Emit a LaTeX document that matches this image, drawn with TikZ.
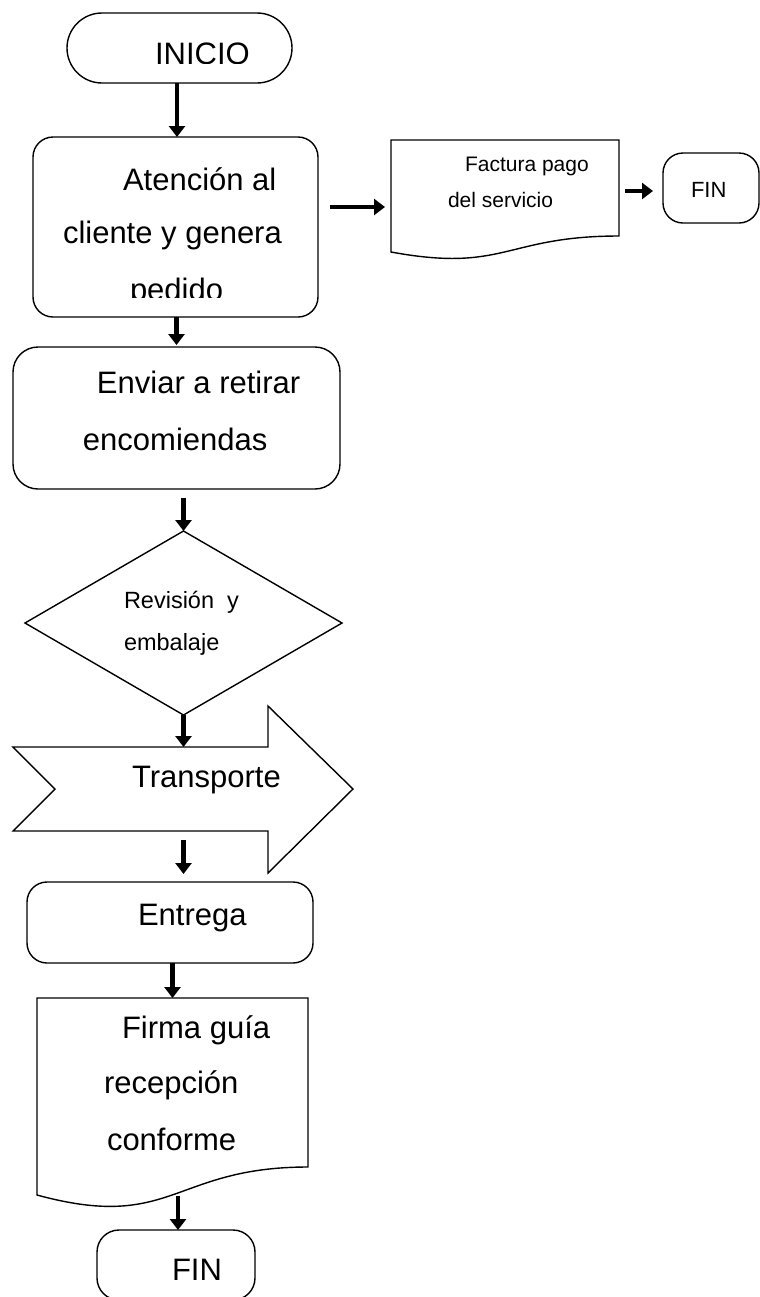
\documentclass[tikz,border=0pt]{standalone}
\usepackage{fontspec}
\setmainfont{Liberation Sans}
\usetikzlibrary{arrows.meta,calc,shapes.geometric}
\newcommand\fbig{\fontsize{15.5pt}{19pt}\selectfont}
\newcommand\fmid{\fontsize{11.75pt}{14pt}\selectfont}
\newcommand\fsml{\fontsize{10.5pt}{13pt}\selectfont}
\newcommand\ffin{\fontsize{11pt}{13pt}\selectfont}
\begin{document}
\begin{tikzpicture}[x=0.5pt,y=-0.5pt,
  shp/.style={draw, line width=0.7pt, inner sep=0pt, outer sep=0pt},
  ghost/.style={inner sep=0pt, outer sep=0pt},
  outline/.style={draw, line width=0.7pt, line join=miter},
  arr/.style={line width=2.4pt, -{Triangle[length=5.5pt,width=8pt]}},
  txt/.style={anchor=base west, inner sep=0pt, outer sep=0pt}]
\useasboundingbox (0,0) rectangle (760,1297);
\clip (0,0) rectangle (760,1297);
\fill[white] (0,0) rectangle (760,1297);

% shapes
\node[shp, rounded corners=17.5pt, minimum width=112.5pt, minimum height=35pt] (ini) at (179.5,48) {};
\node[shp, rounded corners=10pt, minimum width=142.5pt, minimum height=90pt] (aten) at (175.5,227) {};
\node[ghost, minimum width=114pt, minimum height=56pt] (fact) at (505,196) {};
\draw[outline] (391,140) -- (619,140) -- (619,236) .. controls (505,236) and (505,273) .. (391,252) -- cycle;
\node[shp, rounded corners=10pt, minimum width=48pt, minimum height=35pt] (fin1) at (711,188) {};
\node[shp, rounded corners=12.5pt, minimum width=163.5pt, minimum height=71pt] (env) at (176.5,418) {};
\node[shp, diamond, minimum width=158.5pt, minimum height=92pt] (dia) at (183.5,623) {};
\node[ghost, minimum width=127.5pt, minimum height=42pt] (trans) at (140.5,789) {};
\draw[outline] (13,747) -- (268,747) -- (268,706) -- (353,789) -- (268,873) -- (268,831) -- (13,831) -- (55,789) -- cycle;
\node[shp, rounded corners=10pt, minimum width=143pt, minimum height=40.5pt] (ent) at (170,922.5) {};
\node[ghost, minimum width=135.5pt, minimum height=99pt] (firma) at (172.5,1097) {};
\draw[outline] (37,998) -- (308,998) -- (308,1167) .. controls (172.5,1167) and (172.5,1232) .. (37,1195) -- cycle;
\node[shp, rounded corners=11pt, minimum width=79pt, minimum height=35pt] (fin2) at (176,1265) {};

% texts
\begin{scope}
\clip (0,0) rectangle (760,63.5);
\node[txt, font=\fbig] (tini) at (155,64.5) {INICIO};
\end{scope}
\node[txt, font=\fbig] (t1a) at (123,190) {Atención al};
\node[txt, font=\fbig] (t1b) at (63,243) {cliente y genera};
\begin{scope}
\clip (0,0) rectangle (760,297);
\node[txt, font=\fbig] (t1c) at (130,300) {pedido};
\end{scope}
\node[txt, font=\fsml] (tfa) at (465,171) {Factura pago};
\node[txt, font=\fsml] (tfb) at (448,207.5) {del servicio};
\node[txt, font=\ffin] (tfin1) at (691,197) {FIN};
\node[txt, font=\fbig] (t2a) at (97,393) {Enviar a retirar};
\node[txt, font=\fbig] (t2b) at (83,450) {encomiendas};
\node[txt, font=\fmid] (t3a) at (124,608) {Revisión\ \ y};
\node[txt, font=\fmid] (t3b) at (124,650) {embalaje};
\node[txt, font=\fbig] (t4) at (132,787) {Transporte};
\node[txt, font=\fbig] (t5) at (138,925) {Entrega};
\node[txt, font=\fbig] (t6a) at (122,1038) {Firma guía};
\node[txt, font=\fbig] (t6b) at (104,1093) {recepción};
\node[txt, font=\fbig] (t6c) at (107,1150) {conforme};
\node[txt, font=\fbig] (tfin2) at (172,1280) {FIN};

% connectors
\draw[arr] (ini.south -| 177,0) -- (aten.north -| 177,0);
\draw[arr] (aten.south -| env.north) -- ($(env.north)+(0,1pt)$);
\draw[arr] ($(env.south -| dia.north)+(0,-4.5pt)$) -- (dia.north);
\draw[arr] (dia.south) -- (dia.south |- trans.north);
\draw[arr] ($(trans.south -| dia.south)+(0,-4.5pt)$) -- ($(ent.north -| dia.south)+(0,4pt)$);
\draw[arr] (ent.south -| firma.north) -- (firma.north);
\draw[arr] (firma.south -| 178,0) -- (fin2.north -| 178,0);
\draw[arr] ($(aten.east)+(6pt,10pt)$) -- ($(fact.west)+(-3pt,-5.5pt)$);
\draw[arr] ($(fact.east)+(3pt,2.5pt)$) -- ($(fin1.west)+(-5pt,-1.5pt)$);
\end{tikzpicture}
\end{document}
